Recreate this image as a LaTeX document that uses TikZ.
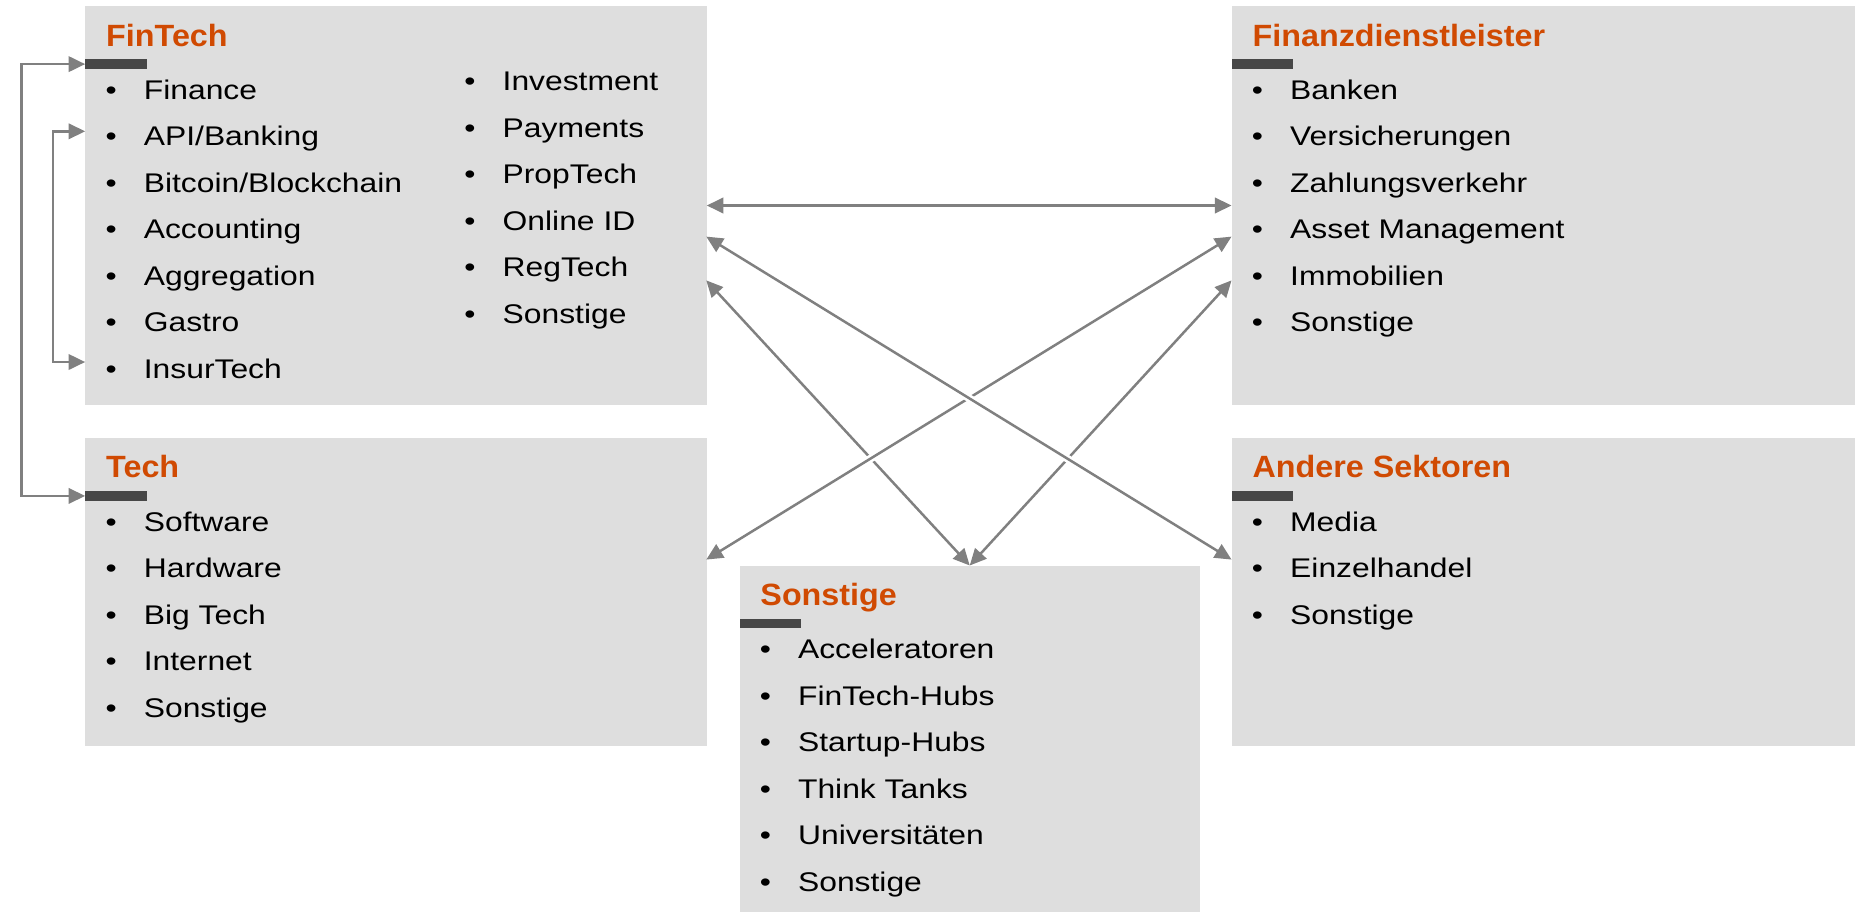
\documentclass[tikz,border=0pt]{standalone}
\usepackage{fontspec}
\setmainfont{Liberation Sans}
\newfontfamily\itemfont{Liberation Sans}[FakeStretch=1.18]
\newfontfamily\headfont{Liberation Sans}[FakeStretch=1.05]
\usetikzlibrary{arrows.meta}

\definecolor{boxgray}{HTML}{DEDEDE}
\definecolor{bargray}{HTML}{474747}
\definecolor{headorange}{HTML}{D04A02}
\definecolor{linkgray}{HTML}{808080}

\newcommand{\bul}{\makebox[32.4pt][l]{•}}

\tikzset{
    box/.style={fill=boxgray, inner sep=0, anchor=north west},
    bar/.style={fill=bargray, inner sep=0, minimum width=52pt, minimum height=8pt, anchor=north west},
    head/.style={anchor=base west, inner sep=0, text=headorange, font=\headfont\bfseries\fontsize{26}{30}\selectfont},
    item/.style={anchor=base west, inner sep=0, font=\itemfont\fontsize{22.8}{27}\selectfont},
    link/.style={draw=linkgray, line width=2.1pt, {Triangle[length=14pt,width=13pt]}-{Triangle[length=14pt,width=13pt]}},
    gap/.style={preaction={draw=white, line width=6.5pt, -, shorten <=18pt, shorten >=18pt}}
}

\begin{document}
\begin{tikzpicture}[x=1pt, y=-1pt]
        \useasboundingbox (0,0) rectangle (1568,771);

        % FinTech
        \node[box, minimum width=525pt, minimum height=337pt] (fin) at (72,5) {};
        \node[bar] (finbar) at (72,50) {};
        \node[head] (finhead) at (89.6,39) {FinTech};
        \node[item] (fin1) at (89,84) {\bul Finance};
        \node[item] (fin2) at (89,123.3) {\bul API/Banking};
        \node[item] (fin3) at (89,162.6) {\bul Bitcoin/Blockchain};
        \node[item] (fin4) at (89,201.9) {\bul Accounting};
        \node[item] (fin5) at (89,241.2) {\bul Aggregation};
        \node[item] (fin6) at (89,280.5) {\bul Gastro};
        \node[item] (fin7) at (89,319.8) {\bul InsurTech};
        \node[item] (fin8) at (392.3,76.6) {\bul Investment};
        \node[item] (fin9) at (392.3,115.9) {\bul Payments};
        \node[item] (fin10) at (392.3,155.2) {\bul PropTech};
        \node[item] (fin11) at (392.3,194.5) {\bul Online ID};
        \node[item] (fin12) at (392.3,233.8) {\bul RegTech};
        \node[item] (fin13) at (392.3,273.1) {\bul Sonstige};

        % Tech
        \node[box, minimum width=525pt, minimum height=260pt] (tech) at (72,370) {};
        \node[bar] (techbar) at (72,415) {};
        \node[head] (techhead) at (89.6,404) {Tech};
        \node[item] (tech1) at (89,449) {\bul Software};
        \node[item] (tech2) at (89,488.3) {\bul Hardware};
        \node[item] (tech3) at (89,527.6) {\bul Big Tech};
        \node[item] (tech4) at (89,566.9) {\bul Internet};
        \node[item] (tech5) at (89,606.2) {\bul Sonstige};

        % Finanzdienstleister
        \node[box, minimum width=527pt, minimum height=337pt] (fdl) at (1041,5) {};
        \node[bar] (fdlbar) at (1041,50) {};
        \node[head] (fdlhead) at (1058.6,39) {Finanzdienstleister};
        \node[item] (fdl1) at (1058,84) {\bul Banken};
        \node[item] (fdl2) at (1058,123.3) {\bul Versicherungen};
        \node[item] (fdl3) at (1058,162.6) {\bul Zahlungsverkehr};
        \node[item] (fdl4) at (1058,201.9) {\bul Asset Management};
        \node[item] (fdl5) at (1058,241.2) {\bul Immobilien};
        \node[item] (fdl6) at (1058,280.5) {\bul Sonstige};

        % Andere Sektoren
        \node[box, minimum width=527pt, minimum height=260pt] (andere) at (1041,370) {};
        \node[bar] (anderebar) at (1041,415) {};
        \node[head] (anderehead) at (1058.6,404) {Andere Sektoren};
        \node[item] (andere1) at (1058,449) {\bul Media};
        \node[item] (andere2) at (1058,488.3) {\bul Einzelhandel};
        \node[item] (andere3) at (1058,527.6) {\bul Sonstige};

        % Sonstige
        \node[box, minimum width=389pt, minimum height=293pt] (sonst) at (625,478) {};
        \node[bar] (sonstbar) at (625,523) {};
        \node[head] (sonsthead) at (642.6,512) {Sonstige};
        \node[item] (sonst1) at (642,557) {\bul Acceleratoren};
        \node[item] (sonst2) at (642,596.3) {\bul FinTech-Hubs};
        \node[item] (sonst3) at (642,635.6) {\bul Startup-Hubs};
        \node[item] (sonst4) at (642,674.9) {\bul Think Tanks};
        \node[item] (sonst5) at (642,714.2) {\bul Universitäten};
        \node[item] (sonst6) at (642,753.5) {\bul Sonstige};

        % connectors
        \coordinate (finA) at (597,200);
        \coordinate (finB) at (597,237);
        \coordinate (fdlA) at (1041,200);
        \coordinate (fdlB) at (1041,237);
        \coordinate (techA) at (597,473);
        \coordinate (andereA) at (1041,473);
        \coordinate (api) at (72,111);
        \coordinate (insur) at (72,306);

        \draw[link, gap] (finB) -- (sonst.north);
        \draw[link, gap] (fdlB) -- (sonst.north);
        \draw[link, gap] (fdlA) -- (techA);
        \draw[link, gap] (finA) -- (andereA);
        \draw[link] (fin.east) -- (fdl.west);

        \draw[link] (finbar.west) -- ++(-54,0) |- (techbar.west);
        \draw[link] (api) -- ++(-27,0) |- (insur);
    \end{tikzpicture}
\end{document}
